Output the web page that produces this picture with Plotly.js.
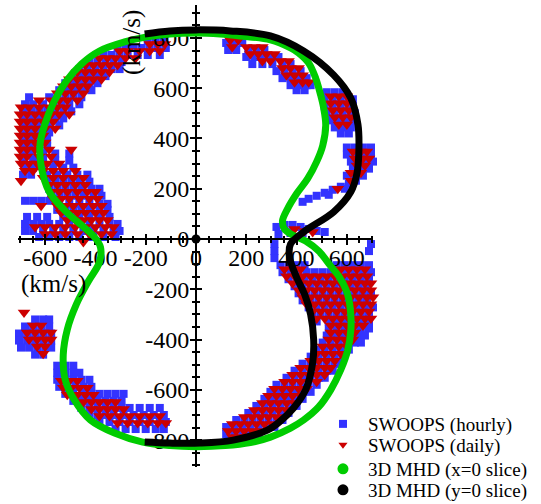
<!DOCTYPE html>
<html><head><meta charset="utf-8">
<script src="https://cdn.plot.ly/plotly-3.0.1.min.js"></script>
<style>html,body{margin:0;padding:0;background:#fff}#chart{width:541px;height:504px}</style>
</head><body><div id="chart"></div>
<script>
// Tick labels
const xTickVals = [-600,-400,-200,0,200,400,600];
const xTickText = ['-600','-400','-200','0','200','400','600'];
const yTickVals = [-800,-600,-400,-200,0,200,400,600,800];
const yTickText = ['-800','-600','-400','-200','0','200','400','600','800'];

// SWOOPS daily (rows: [vy, [vx...]]) km/s
const dailyUpperLeft = [
[776,[-184,-152,-124]],
[748,[-304,-272,-224,-184,-144]],
[720,[-384,-352,-320,-280,-240]],
[692,[-440,-408,-376,-344,-312]],
[664,[-472,-440,-408,-376,-344]],
[636,[-504,-472,-440,-408,-376]],
[608,[-528,-496,-464,-432]],
[580,[-552,-520,-488,-448]],
[552,[-624,-576,-544,-512,-472]],
[524,[-696,-664,-624,-584,-552,-520]],
[496,[-700,-672,-640,-608,-576,-544,-504]],
[468,[-700,-672,-640,-608,-568]],
[440,[-700,-672,-640,-600,-560]],
[412,[-700,-672,-640,-608]],
[384,[-700,-672,-640,-600]],
[356,[-700,-672,-640,-584,-496]],
[328,[-700,-672,-624,-576]],
[300,[-696,-664,-632,-592,-544]],
[272,[-680,-648,-608,-568,-528,-480]],
[244,[-608,-568,-528,-488,-448]],
[232,[-696]],
[216,[-584,-552,-520,-480,-440]],
[188,[-576,-544,-512,-472,-432,-400]],
[160,[-568,-536,-504,-464,-424,-392]],
[132,[-616,-552,-520,-488,-448,-408,-376]],
[104,[-536,-504,-472,-440,-400,-368]],
[76,[-512,-480,-448,-416,-384,-352]],
[48,[-640,-600,-560,-520,-480,-440,-400,-360,-328]],
[20,[-600,-560,-520,-472,-424,-376,-336]],
[-12,[-448]]
];
const dailyLowerLeft = [
[-292,[-684]],
[-344,[-648,-616]],
[-372,[-672,-640,-608,-576]],
[-400,[-664,-632,-600,-576]],
[-428,[-632,-600]],
[-456,[-608]],
[-564,[-536,-504,-472]],
[-592,[-528,-496,-464,-432]],
[-620,[-512,-472,-440,-408]],
[-648,[-448,-416,-384,-352,-320]],
[-676,[-416,-384,-352,-320,-288]],
[-704,[-384,-344,-304,-264,-224,-184,-144]],
[-732,[-312,-272,-232,-192,-152,-120]]
];
const dailyUpperRight = [
[792,[136,168]],
[764,[144,200,232,264]],
[736,[216,248,280,312]],
[708,[264,296,336,368]],
[680,[344,376,408]],
[652,[360,392,424]],
[624,[392,424,448]],
[568,[536,568,600]],
[540,[536,568,600]],
[512,[544,576,608]],
[484,[552,584,616]],
[456,[568,600]],
[348,[624,656,680]],
[320,[632,664,688]],
[292,[640,672]],
[264,[616,656]],
[232,[616]],
[200,[564]],
[40,[392]],
[32,[432]],
[28,[464]]
];
const dailyLowerRight = [
[-120,[352,384,416,576,608,640,672]],
[-148,[360,392,424,456,488,520,552,584,616,648,680]],
[-176,[384,416,448,480,512,544,576,608,640,672,696]],
[-204,[408,440,472,504,536,568,600,632,664,696]],
[-232,[424,456,488,520,552,584,616,648,680,704]],
[-260,[440,472,504,536,568,600,632,664,696]],
[-288,[464,496,528,560,592,624,656,688]],
[-316,[480,512,544,576,608,640,672,696]],
[-344,[536,568,600,632,664]],
[-372,[536,568,600,632]],
[-400,[528,560,592,624]],
[-428,[504,536,568,600]],
[-456,[480,512,544,576]],
[-484,[456,488,520,552]],
[-512,[416,448,480,512,536]],
[-540,[384,416,448,480,512]],
[-568,[352,384,416,448,480]],
[-596,[312,344,376,408,440]],
[-624,[288,320,352,384,416]],
[-652,[264,296,328,360,392]],
[-680,[232,264,296,328,360]],
[-708,[192,224,256,288,320]],
[-736,[144,176,208,240,272,304]],
[-764,[128,160,192,224,256]],
[-788,[144,176,208]]
];

// SWOOPS hourly
const hourlyUpperLeft = [
[788,[-192,-160,-128]],
[760,[-312,-280,-248,-216,-184,-152,-120]],
[732,[-368,-336,-304,-272,-232,-192,-144]],
[704,[-424,-392,-360,-328,-296]],
[676,[-464,-432,-400,-368,-336,-304]],
[648,[-488,-456,-424,-392,-360]],
[620,[-520,-488,-456,-424,-392]],
[592,[-544,-512,-480,-448,-416]],
[564,[-664,-584,-552,-520,-488,-456]],
[536,[-712,-680,-648,-608,-568,-536,-504,-464]],
[508,[-712,-688,-656,-624,-592,-560,-528,-496]],
[480,[-712,-688,-656,-624,-592,-560,-528]],
[452,[-712,-688,-656,-624,-584,-544]],
[424,[-712,-688,-656,-624,-584]],
[396,[-712,-688,-656,-624,-592]],
[368,[-712,-688,-656,-624,-592]],
[340,[-712,-688,-656,-608,-560,-504]],
[312,[-712,-688,-648,-608,-560,-504]],
[284,[-712,-680,-648,-608,-568,-528,-488]],
[256,[-688,-656,-592,-552,-512,-472,-432]],
[228,[-592,-560,-528,-496,-464,-424]],
[200,[-584,-552,-520,-488,-456,-416,-384]],
[172,[-576,-544,-512,-480,-448,-408,-376]],
[152,[-712,-680,-648,-616,-584]],
[140,[-544,-504,-464,-424,-384,-352]],
[116,[-552,-520,-488,-456,-424,-384,-352]],
[88,[-712,-672,-632,-592,-528,-496,-464,-424,-384,-344]],
[60,[-712,-680,-648,-616,-584,-544,-504,-464,-424,-384,-344,-312]],
[32,[-712,-680,-648,-608,-568,-528,-488,-448,-408,-368,-328,-304]],
[8,[-624,-584,-544,-504,-464,-416,-368,-320]]
];
const hourlyLowerLeft = [
[-320,[-640,-608,-584]],
[-348,[-680,-648,-616,-584]],
[-376,[-704,-672,-640,-608,-576]],
[-404,[-704,-672,-640,-608,-576]],
[-432,[-696,-664,-632,-600,-576]],
[-460,[-640,-608]],
[-504,[-552,-520,-488]],
[-532,[-552,-520,-488,-464]],
[-560,[-552,-520,-488,-456,-424]],
[-588,[-544,-512,-480,-448,-416]],
[-616,[-520,-488,-448,-416,-384,-352,-320,-288]],
[-644,[-488,-456,-424,-392,-360,-328,-296]],
[-672,[-456,-424,-392,-360,-328,-296,-264,-224,-184,-144]],
[-700,[-424,-392,-360,-328,-288,-248,-208,-168,-128]],
[-728,[-384,-344,-304,-264,-224,-184,-144,-120]],
[-756,[-320,-280,-240,-200,-160,-128]]
];
const hourlyUpperRight = [
[780,[120,152,184]],
[752,[128,160,208,240,272]],
[724,[200,232,264,296,328]],
[696,[224,264,304,344,376]],
[668,[320,352,384,416]],
[640,[344,376,408,440]],
[612,[376,408,440,456]],
[592,[400,432]],
[584,[520,552,584]],
[556,[512,544,576,608,624]],
[528,[512,544,576,608,624]],
[500,[520,552,584,616,632]],
[472,[536,568,600,632]],
[444,[552,584,616]],
[420,[576,608]],
[364,[600,632,664,696]],
[336,[600,632,664,696]],
[308,[616,648,680,704]],
[280,[624,656,688]],
[252,[600,632,664]],
[232,[636]],
[220,[608]],
[208,[576]],
[200,[592]],
[196,[544]],
[184,[512]],
[176,[528]],
[172,[480]],
[160,[448]],
[148,[424]],
[56,[352,384]],
[48,[320,416]],
[40,[448]],
[32,[480]],
[28,[512]],
[24,[376,424]],
[20,[328]]
];
const hourlyLowerRight = [
[-20,[312,696,720]],
[-48,[312,688,720]],
[-76,[312]],
[-104,[336,368,400,432,560,592,624,656,688,712]],
[-132,[344,376,408,440,472,504,536,568,600,632,664,696,720]],
[-160,[368,400,432,464,496,528,560,592,624,656,688,720]],
[-188,[392,424,456,488,520,552,584,616,648,680,712]],
[-216,[408,440,472,504,536,568,600,632,664,696,720]],
[-244,[424,456,488,520,552,584,616,648,680,712]],
[-272,[448,480,512,544,576,608,640,672,704,720]],
[-300,[464,496,528,560,592,624,656,688,720]],
[-328,[480,528,560,592,624,656,688,712]],
[-356,[528,560,592,624,656,688,712]],
[-384,[520,552,584,616,648,672]],
[-412,[504,536,568,600,632,656]],
[-440,[480,512,544,576,608]],
[-468,[456,488,520,552,584]],
[-496,[424,456,488,520,552,568]],
[-524,[392,424,456,488,520,544]],
[-552,[360,392,424,456,488,512]],
[-580,[320,352,384,416,448,480]],
[-608,[296,328,360,392,424,456]],
[-636,[272,304,336,368,400,424]],
[-664,[240,272,304,336,368,400]],
[-692,[208,240,272,304,336,368]],
[-720,[160,192,224,256,288,320,344]],
[-748,[120,152,184,216,248,280,312]],
[-776,[120,152,184,216,248]],
[-800,[152,192]]
];

// 3D MHD curves [vx, vy]
const mhdXSlice = [
[0,820],[-104,816],[-196,804],[-284,784],[-384,748],[-456,696],[-516,628],[-564,548],
[-600,460],[-620,380],[-616,292],[-584,188],[-516,108],[-452,52],[-404,8],[-380,-32],
[-384,-92],[-428,-168],[-476,-260],[-512,-360],[-528,-460],[-520,-560],[-484,-640],
[-420,-720],[-324,-772],[-212,-808],[-104,-822],[0,-826],[116,-822],[216,-810],
[296,-788],[376,-752],[428,-720],[488,-668],[536,-600],[576,-520],[604,-440],[616,-360],
[616,-308],[608,-240],[596,-200],[568,-148],[536,-108],[488,-48],[436,-8],[384,16],
[352,40],[344,72],[364,120],[400,180],[444,240],[480,308],[504,372],[516,452],[508,520],
[496,572],[476,640],[448,700],[408,740],[376,760],[296,792],[176,808],[96,816],[0,820]
];
const mhdYSlice = [
[-204,816],[-104,828],[0,832],[136,828],[296,808],[428,748],[548,652],[616,560],
[644,456],[648,356],[640,260],[616,188],[548,108],[428,28],[376,-20],[372,-72],
[400,-152],[432,-220],[456,-300],[468,-400],[464,-492],[436,-600],[388,-672],
[336,-724],[284,-760],[148,-800],[16,-812],[-104,-812],[-204,-808]
];
const originPoint = [[0,0]];

function expandRows(groups){
  const xs=[], ys=[];
  groups.forEach(rows=>rows.forEach(([vy,list])=>list.forEach(vx=>{xs.push(vx);ys.push(vy);})));
  return {xs, ys};
}
const hourly = expandRows([hourlyUpperLeft,hourlyLowerLeft,hourlyUpperRight,hourlyLowerRight]);
const daily = expandRows([dailyUpperLeft,dailyLowerLeft,dailyUpperRight,dailyLowerRight]);
const px = a => a.map(p=>p[0]);
const py = a => a.map(p=>p[1]);

const FONT = '"Liberation Serif", "Times New Roman", serif';
const XR = [-708, 704], YR = [-907, 931];
const BLUE='#3333ff', RED='#cc0000', GREEN='#00cc00';

const traces = [
 {type:'scatter', mode:'markers', x:hourly.xs, y:hourly.ys, xaxis:'x', yaxis:'y',
  name:'SWOOPS (hourly)', legend:'legend', cliponaxis:false, hoverinfo:'skip',
  marker:{symbol:'square', size:8, color:BLUE}},
 {type:'scatter', mode:'markers', x:daily.xs, y:daily.ys, xaxis:'x', yaxis:'y',
  name:'SWOOPS (daily)', showlegend:false, cliponaxis:false, hoverinfo:'skip',
  marker:{symbol:'triangle-down', size:11, color:RED}},
 {type:'scatter', mode:'markers', x:[null], y:[null], xaxis:'x2', yaxis:'y2',
  name:'SWOOPS (daily)', legend:'legend2', marker:{symbol:'triangle-down', size:8, color:RED}},
 {type:'scatter', mode:'markers', x:[null], y:[null], xaxis:'x2', yaxis:'y2',
  name:'3D MHD (x=0 slice)', legend:'legend3', marker:{symbol:'circle', size:11, color:GREEN}},
 {type:'scatter', mode:'markers', x:[null], y:[null], xaxis:'x2', yaxis:'y2',
  name:'3D MHD (y=0 slice)', legend:'legend4', marker:{symbol:'circle', size:11, color:'#000'}},
 {type:'scatter', mode:'lines', x:px(mhdXSlice), y:py(mhdXSlice), xaxis:'x2', yaxis:'y2',
  showlegend:false, cliponaxis:false, hoverinfo:'skip',
  line:{color:GREEN, width:7, shape:'spline', smoothing:1}},
 {type:'scatter', mode:'lines', x:px(mhdYSlice), y:py(mhdYSlice), xaxis:'x2', yaxis:'y2',
  showlegend:false, cliponaxis:false, hoverinfo:'skip',
  line:{color:'#000', width:7, shape:'spline', smoothing:1}},
 {type:'scatter', mode:'markers', x:px(originPoint), y:py(originPoint), xaxis:'x2', yaxis:'y2',
  showlegend:false, cliponaxis:false, hoverinfo:'skip', marker:{size:9, color:'#000'}},
 {type:'scatter', mode:'markers', x:[], y:[], xaxis:'x3', yaxis:'y3', showlegend:false, hoverinfo:'skip'}
];

const tickFont = {family:FONT, size:24, color:'#000'};
const minorOut = {tickmode:'linear', tick0:0, dtick:50, ticks:'outside', ticklen:3, tickwidth:2, tickcolor:'#000', showgrid:false};
const minorIn = {tickmode:'linear', tick0:0, dtick:50, ticks:'inside', ticklen:3, tickwidth:2, tickcolor:'#000', showgrid:false};
const XPOS = 907/1838, YPOS = 708/1412;

const legendBase = {xanchor:'left', yanchor:'middle', x:0.845, bgcolor:'rgba(0,0,0,0)', borderwidth:0,
  font:{family:FONT, size:19, color:'#000'}, itemwidth:40, tracegroupgap:0};

const layout = {
  width:541, height:504,
  margin:{l:18, r:168, t:5, b:37, pad:0, autoexpand:false},
  paper_bgcolor:'#fff', plot_bgcolor:'rgba(0,0,0,0)',
  font:{family:FONT, color:'#000'},
  xaxis:{range:XR, domain:[0,1], visible:false, fixedrange:true},
  yaxis:{range:YR, domain:[0,1], visible:false, fixedrange:true},
  xaxis2:{range:XR, domain:[0,1], anchor:'free', position:XPOS, showline:true, linewidth:2, linecolor:'#000',
    ticks:'outside', ticklen:5, tickwidth:2, tickcolor:'#000', tickmode:'array', tickvals:xTickVals, ticktext:xTickText,
    tickfont:tickFont, ticklabelstandoff:-8, showgrid:false, zeroline:false, layer:'below traces', minor:minorOut, fixedrange:true},
  yaxis2:{range:YR, domain:[0,1], anchor:'free', position:YPOS, showline:true, linewidth:2, linecolor:'#000',
    ticks:'outside', ticklen:5, tickwidth:2, tickcolor:'#000', tickmode:'array', tickvals:yTickVals, ticktext:yTickText,
    tickfont:tickFont, ticklabelstandoff:-4, showgrid:false, zeroline:false, layer:'below traces', minor:minorOut, fixedrange:true},
  xaxis3:{range:XR, overlaying:'x2', anchor:'free', position:XPOS, showline:false, ticks:'inside', ticklen:5, tickwidth:2,
    tickcolor:'#000', tickmode:'array', tickvals:xTickVals, showticklabels:false, showgrid:false, zeroline:false,
    layer:'below traces', minor:minorIn, fixedrange:true},
  yaxis3:{range:YR, overlaying:'y2', anchor:'free', position:YPOS, showline:false, ticks:'inside', ticklen:5, tickwidth:2,
    tickcolor:'#000', tickmode:'array', tickvals:yTickVals, showticklabels:false, showgrid:false, zeroline:false,
    layer:'below traces', minor:minorIn, fixedrange:true},
  legend:Object.assign({}, legendBase, {y:0.093}),
  legend2:Object.assign({}, legendBase, {y:0.0476}),
  legend3:Object.assign({}, legendBase, {y:-0.0043}),
  legend4:Object.assign({}, legendBase, {y:-0.0498}),
  annotations:[
    {text:'(km/s)', xref:'paper', yref:'paper', x:0.0986, y:0.396, showarrow:false,
     xanchor:'center', yanchor:'middle', font:{family:FONT, size:25, color:'#000'}},
    {text:'(km/s)', xref:'paper', yref:'paper', x:0.321, y:0.920, showarrow:false, textangle:-90,
     xanchor:'center', yanchor:'middle', font:{family:FONT, size:25, color:'#000'}}
  ],
  showlegend:true
};

Plotly.newPlot('chart', traces, layout, {staticPlot:true, displayModeBar:false});
</script>
</body></html>
